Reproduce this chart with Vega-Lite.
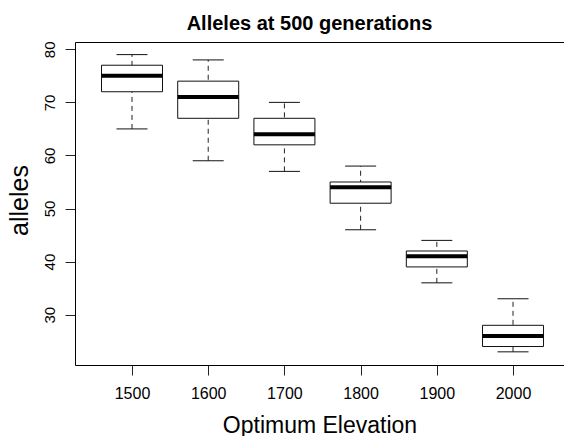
{
  "$schema": "https://vega.github.io/schema/vega-lite/v6.json",
  "width": 489,
  "height": 323,
  "autosize": {"type": "none"},
  "padding": {"left": 75, "top": 42, "right": 0, "bottom": 71},
  "background": "white",
  "title": {
    "text": "Alleles at 500 generations",
    "fontSize": 20,
    "fontWeight": "bold",
    "font": "Liberation Sans",
    "color": "black",
    "anchor": "middle",
    "dx": -10,
    "dy": 24,
    "baseline": "alphabetic",
    "offset": 15
  },
  "data": {
    "values": [
      {"elev": 1500, "low": 65, "q1": 72, "median": 75, "q3": 77, "high": 79},
      {"elev": 1600, "low": 59, "q1": 67, "median": 71, "q3": 74, "high": 78},
      {"elev": 1700, "low": 57, "q1": 62, "median": 64, "q3": 67, "high": 70},
      {"elev": 1800, "low": 46, "q1": 51, "median": 54, "q3": 55, "high": 58},
      {"elev": 1900, "low": 36, "q1": 39, "median": 41, "q3": 42, "high": 44},
      {"elev": 2000, "low": 23, "q1": 24, "median": 26, "q3": 28, "high": 33}
    ]
  },
  "layer": [
    {
      "mark": {"type": "rule", "strokeDash": [5, 4], "color": "#222", "strokeWidth": 1, "opacity": 1},
      "encoding": {
        "x": {"field": "elev", "type": "quantitative", "scale": {"domain": [1425.2, 2066.9], "nice": false, "zero": false, "padding": 0},
              "axis": {"orient": "top", "labels": false, "ticks": false, "title": null, "domain": true}},
        "y": {"field": "low", "type": "quantitative", "scale": {"domain": [20.52, 81.375], "nice": false, "zero": false, "padding": 0},
              "axis": {"title": "alleles", "values": [30, 40, 50, 60, 70, 80]}},
        "y2": {"field": "high"}
      }
    },
    {
      "mark": {"type": "tick", "orient": "horizontal", "size": 31, "thickness": 1, "color": "#111", "opacity": 1},
      "encoding": {
        "x": {"field": "elev", "type": "quantitative", "scale": {"domain": [1425.2, 2066.9], "nice": false, "zero": false, "padding": 0}, "axis": null},
        "y": {"field": "low", "type": "quantitative", "scale": {"domain": [20.52, 81.375], "nice": false, "zero": false, "padding": 0},
              "axis": {"title": "alleles", "values": [30, 40, 50, 60, 70, 80]}}
      }
    },
    {
      "mark": {"type": "tick", "orient": "horizontal", "size": 31, "thickness": 1, "color": "#111", "opacity": 1},
      "encoding": {
        "x": {"field": "elev", "type": "quantitative", "scale": {"domain": [1425.2, 2066.9], "nice": false, "zero": false, "padding": 0}, "axis": null},
        "y": {"field": "high", "type": "quantitative", "scale": {"domain": [20.52, 81.375], "nice": false, "zero": false, "padding": 0},
              "axis": {"title": "alleles", "values": [30, 40, 50, 60, 70, 80]}}
      }
    },
    {
      "mark": {"type": "bar", "size": 61, "fill": "white", "stroke": "#111", "strokeWidth": 1, "opacity": 1},
      "encoding": {
        "x": {"field": "elev", "type": "quantitative", "scale": {"domain": [1425.2, 2066.9], "nice": false, "zero": false, "padding": 0},
              "axis": {"orient": "bottom", "values": [1500, 1600, 1700, 1800, 1900, 2000], "title": "Optimum Elevation", "format": "d"}},
        "y": {"field": "q1", "type": "quantitative", "scale": {"domain": [20.52, 81.375], "nice": false, "zero": false, "padding": 0},
              "axis": {"title": "alleles", "values": [30, 40, 50, 60, 70, 80]}},
        "y2": {"field": "q3"}
      }
    },
    {
      "mark": {"type": "tick", "orient": "horizontal", "size": 61, "thickness": 4, "color": "black", "opacity": 1},
      "encoding": {
        "x": {"field": "elev", "type": "quantitative", "scale": {"domain": [1425.2, 2066.9], "nice": false, "zero": false, "padding": 0}, "axis": null},
        "y": {"field": "median", "type": "quantitative", "scale": {"domain": [20.52, 81.375], "nice": false, "zero": false, "padding": 0},
              "axis": {"title": "alleles", "values": [30, 40, 50, 60, 70, 80]}}
      }
    }
  ],
  "resolve": {"axis": {"x": "independent"}},
  "config": {
    "view": {"stroke": null},
    "axis": {
      "grid": false,
      "domainColor": "black",
      "domainWidth": 1,
      "tickColor": "#222",
      "tickWidth": 1,
      "tickSize": 10,
      "labelColor": "black",
      "titleColor": "black",
      "labelFont": "Liberation Sans",
      "titleFont": "Liberation Sans",
      "titleFontWeight": "normal",
      "labelFlush": false,
      "labelOverlap": false
    },
    "axisY": {
      "labelAngle": 270,
      "labelAlign": "center",
      "labelBaseline": "alphabetic",
      "labelPadding": 11,
      "labelFontSize": 15,
      "titleFontSize": 25,
      "titleAngle": 270,
      "titleAlign": "center",
      "titleBaseline": "alphabetic",
      "titleX": -48,
      "titleY": 158
    },
    "axisX": {
      "labelFontSize": 16,
      "labelPadding": 10,
      "titleFontSize": 23,
      "titleBaseline": "alphabetic",
      "titleY": 67
    }
  }
}
